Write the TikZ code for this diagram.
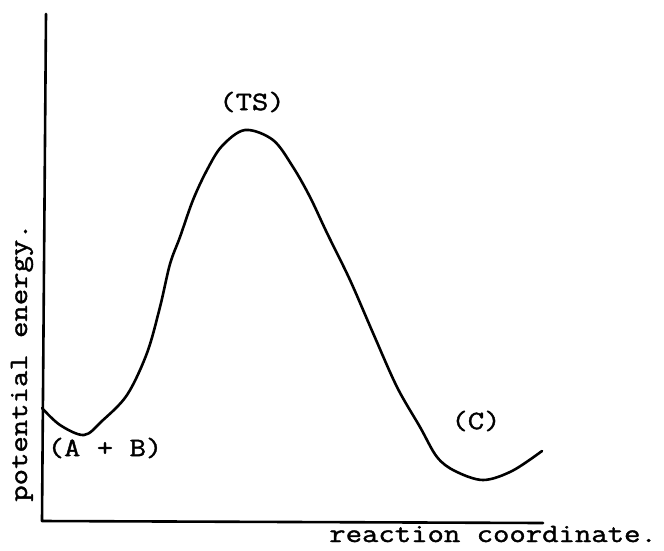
\documentclass[tikz,border=0pt]{standalone}
\usepackage{fontspec}
\setmonofont[FakeStretch=1.2, FakeBold=1.5]{Latin Modern Mono}
\usetikzlibrary{calc}
\tikzset{lbl/.style={font=\fontsize{26.5}{30}\selectfont\ttfamily, inner sep=0pt}}

\begin{document}
\begin{tikzpicture}[x=1pt, y=-1pt, line width=2.6pt, line join=round, line cap=round]
  \useasboundingbox (0,0) rectangle (664,550);
  % axes
  \coordinate (top) at (46,14);
  \coordinate (origin) at (42,521);
  \coordinate (right) at (543,523);
  \draw (top) -- (origin) -- (right);
  % energy profile
  \draw plot[smooth, tension=0.55] coordinates {(42,408) (60,425) (84,435) (102,421) (127,395)
    (147,353) (160,307) (170,264) (180,237) (193,200) (207,170) (222,146) (245,130)
    (273,140) (293,167) (310,197) (327,233) (350,280) (373,333) (397,387) (420,427)
    (437,457) (455,471) (483,480) (512,471) (542,451)};
  % labels
  \node[lbl] (ts) at (252,102) {(TS)};
  \node[lbl] (ab) at (105,448) {(A + B)};
  \node[lbl] (c) at (476,421) {(C)};
  \node[lbl, anchor=base west] (xlab) at (328,542) {reaction coordinate.};
  \node[lbl, anchor=base west, rotate=90] (ylab) at (27,503) {potential energy.};
\end{tikzpicture}
\end{document}
